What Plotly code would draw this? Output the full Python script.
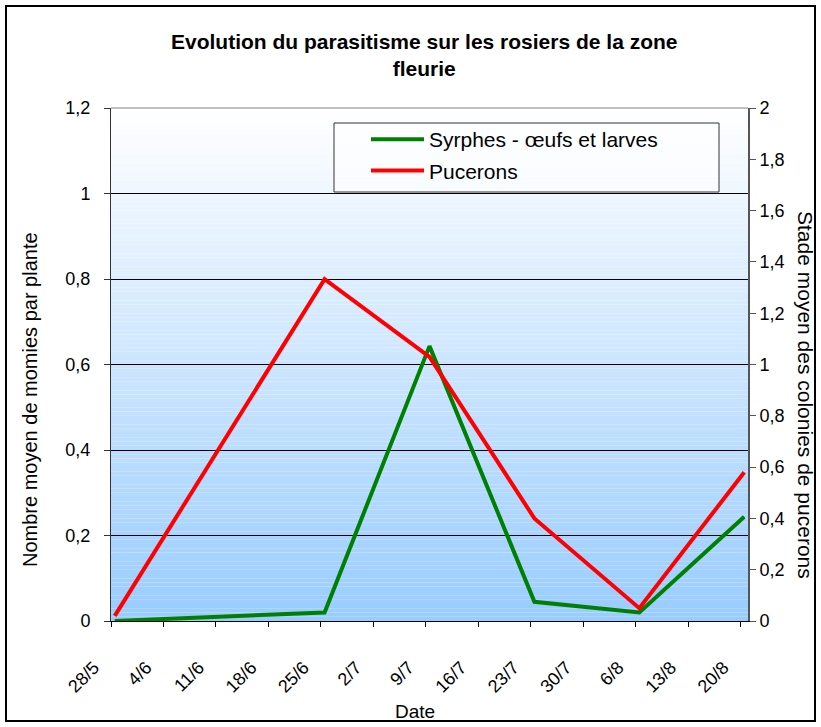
import plotly.graph_objects as go
import pandas as pd

# Sampling dates (day/month) and weekly tick start
dates = ["2008-05-28", "2008-06-25", "2008-07-09", "2008-07-23", "2008-08-06", "2008-08-20"]
syrphes = [0.0, 0.02, 0.643, 0.045, 0.02, 0.244]      # left axis
pucerons = [0.02, 1.333, 1.03, 0.40, 0.05, 0.58]      # right axis
left_ticks = [0, 0.2, 0.4, 0.6, 0.8, 1, 1.2]
right_ticks = [0, 0.2, 0.4, 0.6, 0.8, 1, 1.2, 1.4, 1.6, 1.8, 2]

W, H = 821, 727
L, R, T, B = 111, 73, 108, 106
PW, PH = W - L - R, H - T - B


def px(xp):
    return (xp - L) / PW


def py(yp):
    return (H - B - yp) / PH


def fmt(v):
    return ("%g" % v).replace(".", ",")


# each day is a slot on the date axis; points sit in the middle of their day
xd = pd.to_datetime(dates) + pd.Timedelta(hours=12)

FONT = "Liberation Sans, Arial, sans-serif"

fig = go.Figure()
fig.add_trace(go.Scatter(x=xd, y=syrphes, mode="lines", name="Syrphes - œufs et larves",
                         legendgroup="a",
                         line=dict(color="#008000", width=4), yaxis="y"))
fig.add_trace(go.Scatter(x=xd, y=pucerons, mode="lines", name="Pucerons",
                         legendgroup="b",
                         line=dict(color="#FF0000", width=4), yaxis="y2"))

# vertical white-to-blue gradient behind the plot area
shapes = []
n = 120
c0 = (153, 204, 255)
c1 = (255, 255, 255)
for i in range(n):
    t = (i + 0.5) / n
    c = tuple(round(c0[k] + (c1[k] - c0[k]) * t) for k in range(3))
    shapes.append(dict(type="rect", xref="x domain", yref="y domain",
                       x0=0, x1=1, y0=i / n, y1=(i + 1) / n,
                       fillcolor="rgb(%d,%d,%d)" % c, line=dict(width=0), layer="below"))
# top edge of the plot area
shapes.append(dict(type="line", xref="x domain", yref="y domain", x0=0, x1=1, y0=1, y1=1,
                   line=dict(color="#808080", width=1)))
# legend frame
shapes.append(dict(type="rect", xref="paper", yref="paper",
                   x0=px(334), x1=px(719), y0=py(192), y1=py(123),
                   fillcolor="rgba(255,255,255,0.6)", line=dict(color="#333333", width=1)))
# outer chart frame
shapes.append(dict(type="rect", xref="paper", yref="paper",
                   x0=px(6), x1=px(815), y0=py(721), y1=py(6),
                   line=dict(color="black", width=2)))

annotations = [
    dict(text="<b>Evolution du parasitisme sur les rosiers de la zone<br>fleurie</b>",
         x=px(424), y=py(55), xref="paper", yref="paper", showarrow=False,
         font=dict(family=FONT, size=21, color="black"), xanchor="center", yanchor="middle"),
    dict(text="Date", x=px(415), y=py(711), xref="paper", yref="paper", showarrow=False,
         font=dict(family=FONT, size=19, color="black"), xanchor="center", yanchor="middle"),
    dict(text="Nombre moyen de momies par plante", x=px(30), y=py(400), xref="paper", yref="paper",
         showarrow=False, textangle=-90,
         font=dict(family=FONT, size=20, color="black"), xanchor="center", yanchor="middle"),
    dict(text="Stade moyen des colonies de pucerons", x=px(806), y=py(395), xref="paper", yref="paper",
         showarrow=False, textangle=90,
         font=dict(family=FONT, size=21, color="black"), xanchor="center", yanchor="middle"),
]

fig.update_layout(
    width=W, height=H,
    margin=dict(l=L, r=R, t=T, b=B),
    paper_bgcolor="white", plot_bgcolor="white",
    font=dict(family=FONT, size=18, color="black"),
    showlegend=True,
    legend=dict(x=px(366), y=py(119), xanchor="left", yanchor="top",
                bgcolor="rgba(0,0,0,0)", borderwidth=0,
                font=dict(family=FONT, size=21, color="black"),
                itemwidth=53, traceorder="grouped", tracegroupgap=1),
    xaxis=dict(type="date", range=["2008-05-28", "2008-08-21"],
               tick0="2008-05-28", dtick=7 * 86400000, tickformat="%-d/%-m",
               tickangle=-45, ticks="outside", ticklen=5, tickcolor="black",
               ticklabelstandoff=23, ticklabelshift=-17,
               showline=True, linecolor="black", linewidth=1,
               showgrid=False, zeroline=False,
               tickfont=dict(family=FONT, size=18)),
    yaxis=dict(range=[0, 1.2], tickvals=left_ticks, ticktext=[fmt(v) for v in left_ticks],
               ticks="outside", ticklen=6, tickcolor="#333333",
               ticklabelstandoff=10,
               showline=True, linecolor="#333333", linewidth=1,
               showgrid=True, gridcolor="black", gridwidth=1, zeroline=False,
               tickfont=dict(family=FONT, size=18)),
    yaxis2=dict(range=[0, 2], tickvals=right_ticks, ticktext=[fmt(v) for v in right_ticks],
                overlaying="y", side="right",
                ticks="outside", ticklen=6, tickcolor="#555555",
                ticklabelstandoff=0,
                showline=True, linecolor="#555555", linewidth=2,
                showgrid=False, zeroline=False,
                tickfont=dict(family=FONT, size=18)),
    shapes=shapes,
    annotations=annotations,
)

fig.write_html("out.html")
